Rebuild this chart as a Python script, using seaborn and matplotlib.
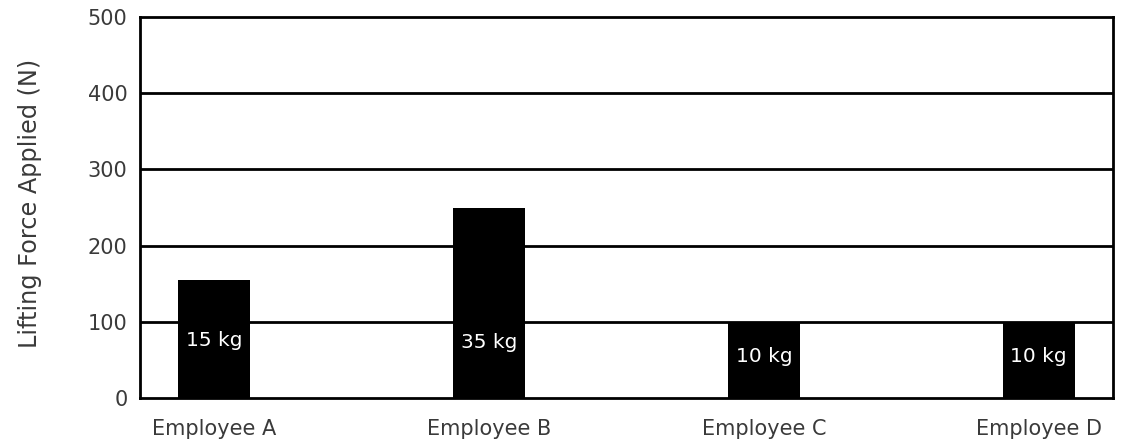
import matplotlib
matplotlib.use("Agg")
import matplotlib.pyplot as plt
import seaborn as sns
import pandas as pd

categories = ["Employee A", "Employee B", "Employee C", "Employee D"]
forces = [155, 250, 100, 100]
bar_labels = ["15 kg", "35 kg", "10 kg", "10 kg"]
yticks = [0, 100, 200, 300, 400, 500]

sns.set_theme(style="white")
plt.rcParams['font.family'] = ['DejaVu Sans']

df = pd.DataFrame({"Employee": categories, "Force": forces})

fig = plt.figure(figsize=(11.22, 4.42), dpi=100)
ax = fig.add_axes([140/1122, 1-398/442, 973/1122, 381/442])

for y in yticks[1:-1]:
    ax.axhline(y, color="black", lw=2, zorder=1)

sns.barplot(data=df, x="Employee", y="Force", color="black", width=0.26,
            saturation=1, ax=ax, zorder=2, edgecolor="black", linewidth=0)

label_pos = [76, 73, 54, 54]
for i, (lab, yp) in enumerate(zip(bar_labels, label_pos)):
    ax.text(i, yp, lab, color="white", ha="center", va="center",
            fontsize=14.5, zorder=3)

ax.set_xlim(-0.27, 3.27)
ax.set_ylim(0, 500)
ax.set_yticks(yticks)
ax.set_xlabel("")
ax.set_ylabel("Lifting Force Applied (N)", fontsize=17.3, color="#3a3a3a")
ax.yaxis.set_label_coords(-0.101, 0.51)
ax.tick_params(axis="both", length=0, labelsize=15, labelcolor="#3a3a3a")
ax.tick_params(axis="x", pad=15)
ax.tick_params(axis="y", pad=9)
for s in ax.spines.values():
    s.set_visible(True)
    s.set_color("black")
    s.set_linewidth(2)
ax.set_facecolor("white")
fig.patch.set_facecolor("white")

fig.savefig("out.png", dpi=100)
